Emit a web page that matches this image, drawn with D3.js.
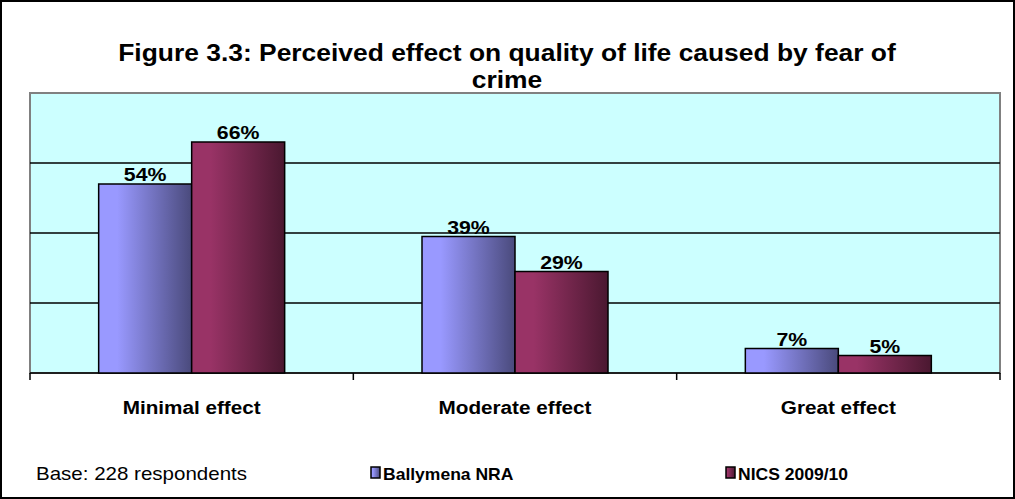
<!DOCTYPE html>
<html><head><meta charset="utf-8">
<script src="https://cdn.jsdelivr.net/npm/d3@7"></script>
<style>body{margin:0;background:#fff}svg{display:block}</style>
</head><body>
<script>
const categories = ["Minimal effect", "Moderate effect", "Great effect"];
const seriesNames = ["Ballymena NRA", "NICS 2009/10"];
const ballymena = [54, 39, 7];
const nics = [66, 29, 5];
const yTicks = [0, 20, 40, 60, 80];
const titleLines = ["Figure 3.3: Perceived effect on quality of life caused by fear of", "crime"];
const baseNote = "Base: 228 respondents";

const W = 1015, H = 499;
const svg = d3.select("body").append("svg").attr("width", W).attr("height", H);
const font = "'Liberation Sans', Arial, sans-serif";

// stretch text horizontally by factor k (reference text is slightly wide)
function stretch(sel, k) {
  sel.each(function () {
    const w = this.getComputedTextLength();
    d3.select(this).attr("textLength", w * k).attr("lengthAdjust", "spacingAndGlyphs");
  });
}

svg.append("rect").attr("x", 1).attr("y", 1).attr("width", W - 2).attr("height", H - 2)
  .attr("fill", "#fff").attr("stroke", "#000").attr("stroke-width", 2);

const defs = svg.append("defs");
const grads = [["gBlue", "#9999ff", "#4a4a7c"], ["gRed", "#993366", "#4a1830"]];
grads.forEach(([id, c1, c2]) => {
  const g = defs.append("linearGradient").attr("id", id).attr("x1", 0).attr("x2", 1).attr("y1", 0).attr("y2", 0);
  g.append("stop").attr("offset", "0%").attr("stop-color", c1);
  g.append("stop").attr("offset", "20%").attr("stop-color", c1);
  g.append("stop").attr("offset", "100%").attr("stop-color", c2);
});

const L = 30, R = 1000, T = 93, B = 373;
const x = d3.scaleBand().domain(categories).range([L, R]);
const y = d3.scaleLinear().domain([0, 80]).range([B, T]);
const bw = 93;
const sub = d3.scaleBand().domain(seriesNames).range([0, bw * 2]);

svg.append("rect").attr("x", L).attr("y", T).attr("width", R - L).attr("height", B - T)
  .attr("fill", "#ccffff").attr("stroke", "#808080").attr("stroke-width", 2);

svg.selectAll(".grid").data(yTicks.slice(1, -1)).enter().append("line")
  .attr("x1", L).attr("x2", R).attr("y1", d => y(d)).attr("y2", d => y(d))
  .attr("stroke", "#000").attr("stroke-width", 1.5);

svg.append("line").attr("x1", L).attr("x2", R).attr("y1", B).attr("y2", B).attr("stroke", "#000").attr("stroke-width", 1.5);
const bounds = [L].concat(categories.map(c => x(c) + x.bandwidth()));
svg.selectAll(".tk").data(bounds).enter().append("line")
  .attr("x1", d => d).attr("x2", d => d).attr("y1", B).attr("y2", B + 7)
  .attr("stroke", "#000").attr("stroke-width", 1.5);

const series = [ballymena, nics];
series.forEach((vals, si) => {
  const g = svg.append("g");
  g.selectAll("rect").data(categories).enter().append("rect")
    .attr("x", c => x(c) + x.bandwidth() / 2 - bw + sub(seriesNames[si]))
    .attr("y", (c, i) => y(vals[i]))
    .attr("width", bw)
    .attr("height", (c, i) => B - y(vals[i]))
    .attr("fill", `url(#${grads[si][0]})`)
    .attr("stroke", "#000").attr("stroke-width", 1.5);
  g.selectAll("text").data(categories).enter().append("text")
    .attr("x", c => x(c) + x.bandwidth() / 2 - bw + sub(seriesNames[si]) + bw / 2)
    .attr("y", (c, i) => y(vals[i]) - 3)
    .attr("text-anchor", "middle").attr("font-family", font).attr("font-weight", "bold")
    .attr("font-size", 19).text((c, i) => vals[i] + "%")
    .call(stretch, 1.12);
});

svg.selectAll(".cat").data(categories).enter().append("text")
  .attr("x", c => x(c) + x.bandwidth() / 2).attr("y", 414)
  .attr("text-anchor", "middle").attr("font-family", font).attr("font-weight", "bold")
  .attr("font-size", 18).text(c => c)
  .call(stretch, 1.15);

svg.selectAll(".title").data(titleLines).enter().append("text")
  .attr("x", 507).attr("y", (d, i) => 61 + i * 27)
  .attr("text-anchor", "middle").attr("font-family", font).attr("font-weight", "bold")
  .attr("font-size", 24).text(d => d)
  .call(stretch, 1.1);

svg.append("text").attr("x", 36).attr("y", 480).attr("font-family", font)
  .attr("font-size", 19).text(baseNote)
  .call(stretch, 1.08);

const legX = [371, 726];
seriesNames.forEach((s, i) => {
  svg.append("rect").attr("x", legX[i]).attr("y", 467).attr("width", 9).attr("height", 11)
    .attr("fill", `url(#${grads[i][0]})`).attr("stroke", "#000").attr("stroke-width", 1.5);
  svg.append("text").attr("x", legX[i] + 12).attr("y", 480).attr("font-family", font)
    .attr("font-weight", "bold").attr("font-size", 17).text(s)
    .call(stretch, 1.03);
});
</script>
</body></html>
